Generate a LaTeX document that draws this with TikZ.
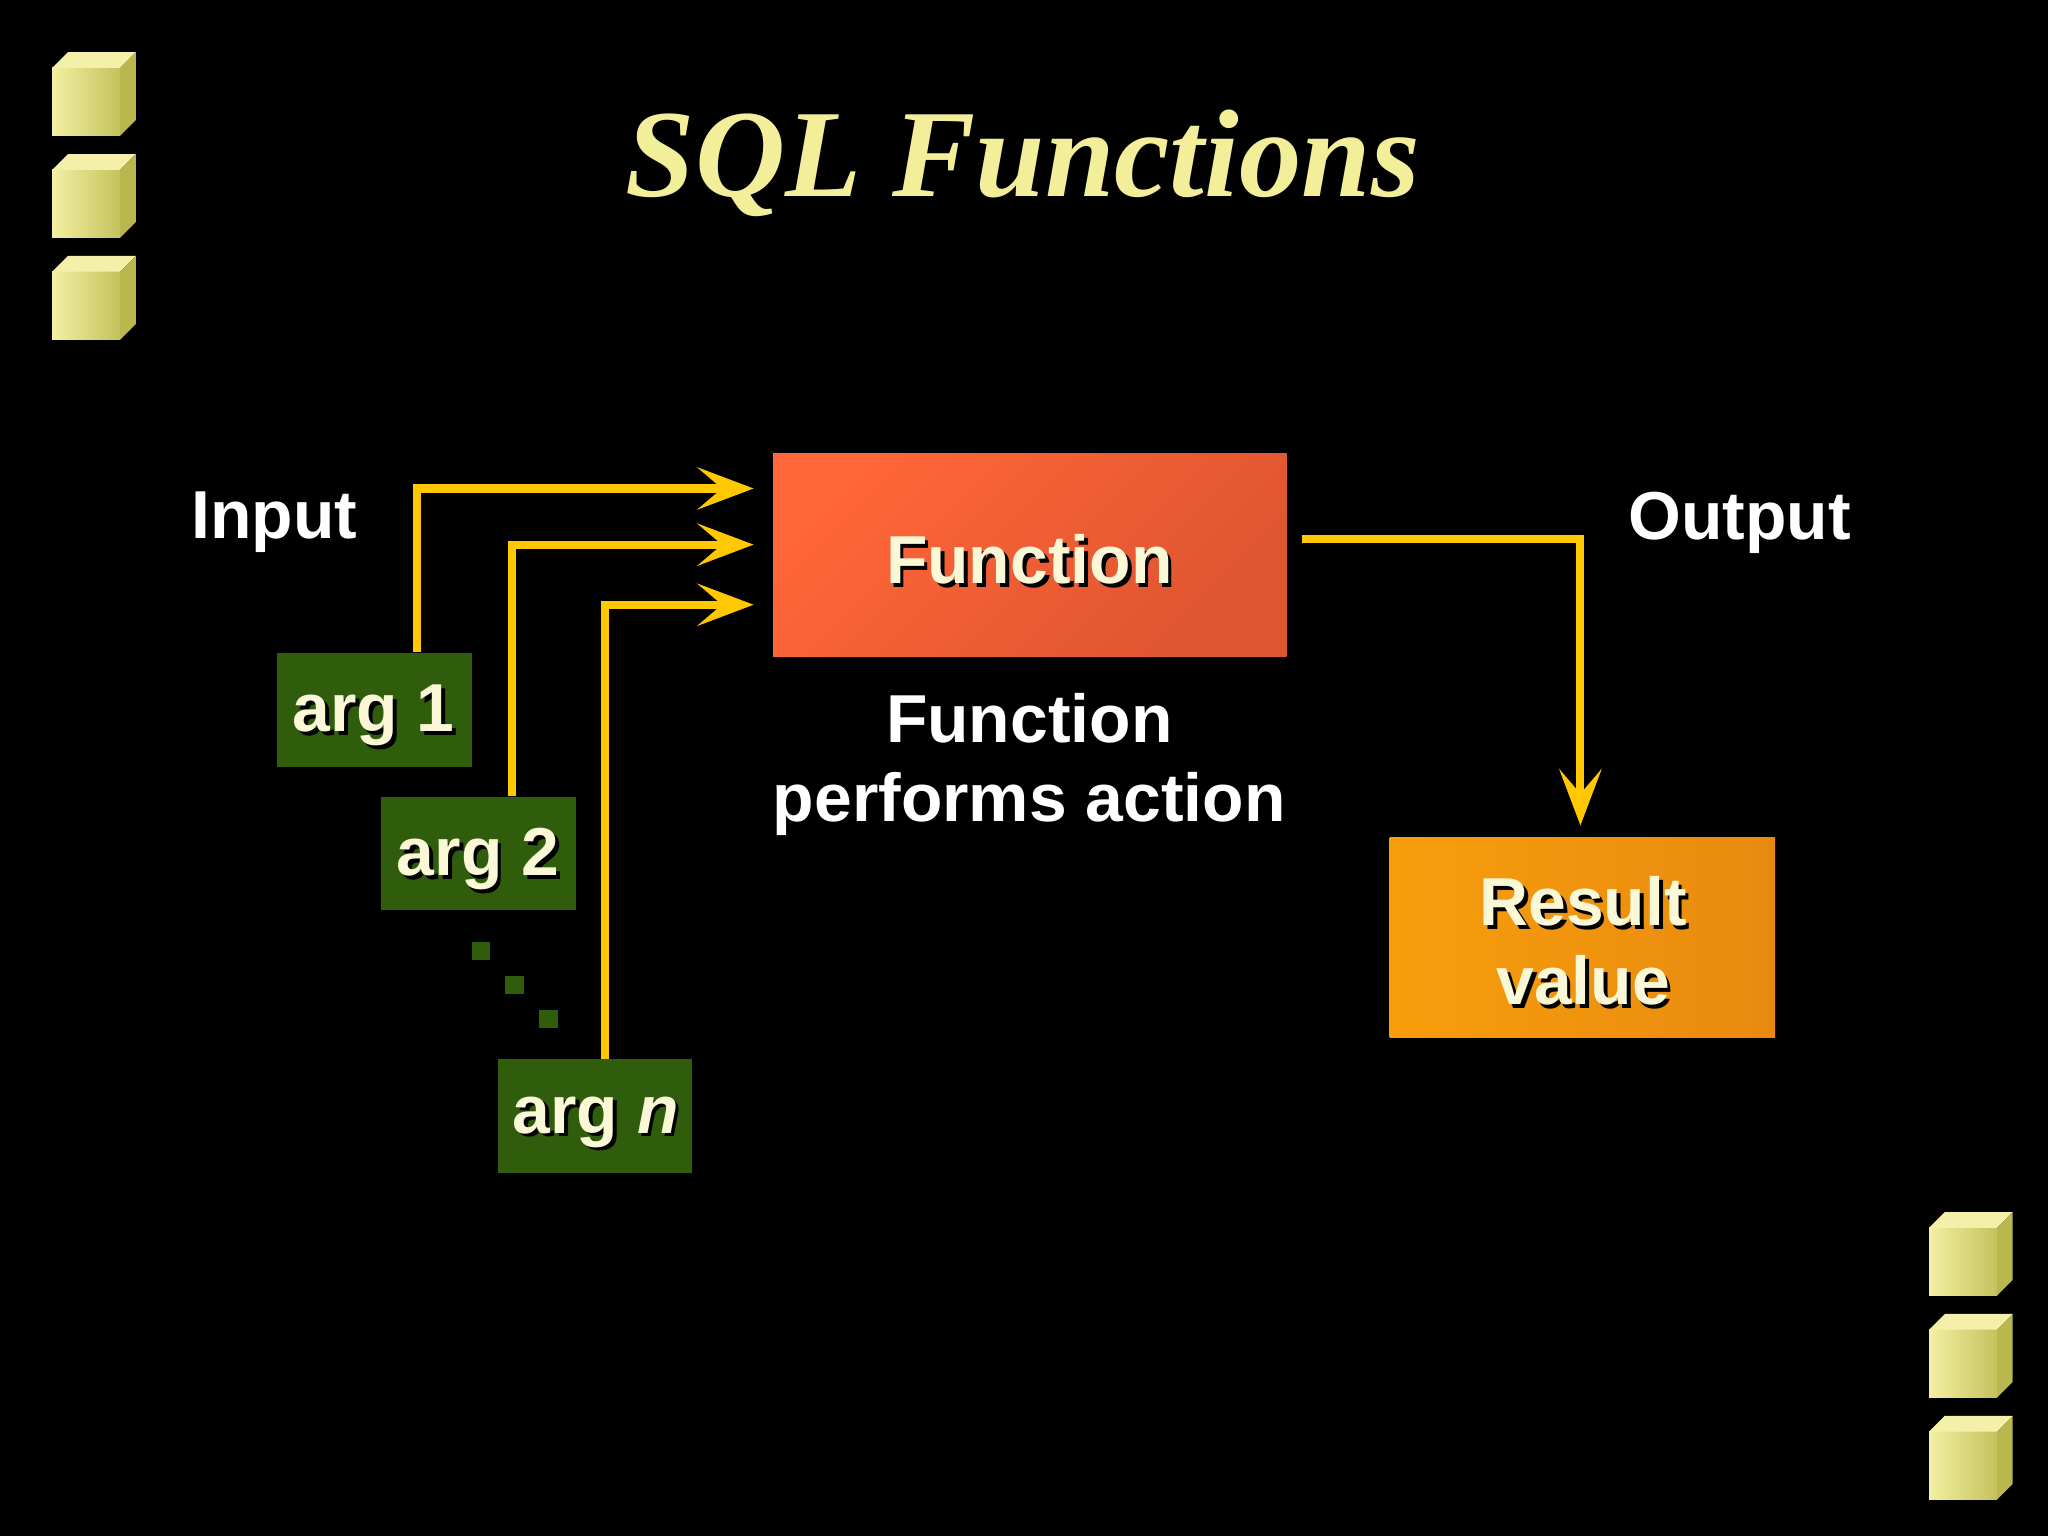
\documentclass[tikz,border=0pt]{standalone}
\usepackage{fontspec}
\setmainfont{Liberation Sans}
\newfontfamily\titlefont{Liberation Serif}
\usetikzlibrary{arrows.meta}
\definecolor{ttl}{HTML}{F2EE9A}
\definecolor{arw}{HTML}{FFC800}
\definecolor{grn}{HTML}{2F5D0C}
\definecolor{fnA}{HTML}{FF6638}
\definecolor{fnB}{HTML}{DE5530}
\definecolor{rsA}{HTML}{F89E0C}
\definecolor{rsB}{HTML}{E88A10}
\tikzset{
  conn/.style={draw=arw,line width=2.3pt,-{Stealth[length=16pt,width=12pt,inset=7pt]}},
  argbox/.style={fill=grn,minimum width=149*0.01306cm,minimum height=87*0.01306cm,inner sep=0pt},
  lbl/.style={text=white,font=\bfseries\fontsize{19.3}{22.5}\selectfont,align=center},
  shd/.style={text=black,font=\bfseries\fontsize{19.3}{22.5}\selectfont,align=center}
}
\newcommand{\cube}[2]{%
  \shade[left color=ttl!90!white,right color=ttl!60!olive] (#1,#2+12) rectangle (#1+52,#2+64);
  \fill[ttl!85!white] (#1,#2+12) -- (#1+12,#2) -- (#1+64,#2) -- (#1+52,#2+12) -- cycle;
  \fill[ttl!50!olive] (#1+52,#2+12) -- (#1+64,#2) -- (#1+64,#2+52) -- (#1+52,#2+64) -- cycle;}
\begin{document}
\begin{tikzpicture}[x=0.01306cm,y=-0.01306cm]
\fill[black] (0,0) rectangle (1568,1176);
\useasboundingbox (0,0) rectangle (1568,1176);
\cube{40}{40}\cube{40}{118}\cube{40}{196}
\cube{1477}{928}\cube{1477}{1006}\cube{1477}{1084}
\node[text=ttl,font=\titlefont\bfseries\itshape\fontsize{35.5}{40}\selectfont] (title) at (783,125) {SQL Functions};
% function box
\shade[left color=fnA,right color=fnB,shading angle=45] (592,347) rectangle (985,503);
\node[minimum width=393*0.01306cm,minimum height=156*0.01306cm] (fn) at (788.5,425) {};
\node[shd] at (791,431) {Function};
\node[lbl,text=ttl!40!white] (fnt) at (788,428) {Function};
% result box
\shade[left color=rsA,right color=rsB] (1064,641) rectangle (1359,794);
\node[minimum width=295*0.01306cm,minimum height=153*0.01306cm] (res) at (1211.5,717.5) {};
\node[shd] at (1215,723) {Result\\value};
\node[lbl,text=ttl!40!white] (rest) at (1212,720) {Result\\value};
% args
\node[argbox] (a1) at (286.5,543.5) {};
\node[argbox] (a2) at (366.5,653.5) {};
\node[argbox] (an) at (455.5,854.5) {};
\node[shd] at (289,551) {arg 1};
\node[lbl,text=ttl!40!white] at (286,548) {arg 1};
\node[shd] at (369,661) {arg 2};
\node[lbl,text=ttl!40!white] at (366,658) {arg 2};
\node[shd] at (459,862) {arg \textit{n}};
\node[lbl,text=ttl!40!white] at (456,859) {arg \textit{n}};
\foreach \x/\y in {368/728,394/754,420/780} \fill[grn] (\x-7,\y-7) rectangle (\x+7,\y+7);
% labels
\node[lbl] (in) at (210,400) {Input};
\node[lbl] (out) at (1332,400) {Output};
\node[lbl] (perf) at (788,585) {Function\\performs action};
% connectors
\coordinate (t1) at (577,374);\coordinate (t2) at (577,417);\coordinate (t3) at (577,463);
\draw[conn] (a1.north -| 319,0) |- (t1);
\draw[conn] (a2.north -| 392,0) |- (t2);
\draw[conn] (an.north -| 463,0) |- (t3);
\coordinate (o1) at (997,413);
\draw[conn] (o1) -| (1210,632);
\end{tikzpicture}
\end{document}
